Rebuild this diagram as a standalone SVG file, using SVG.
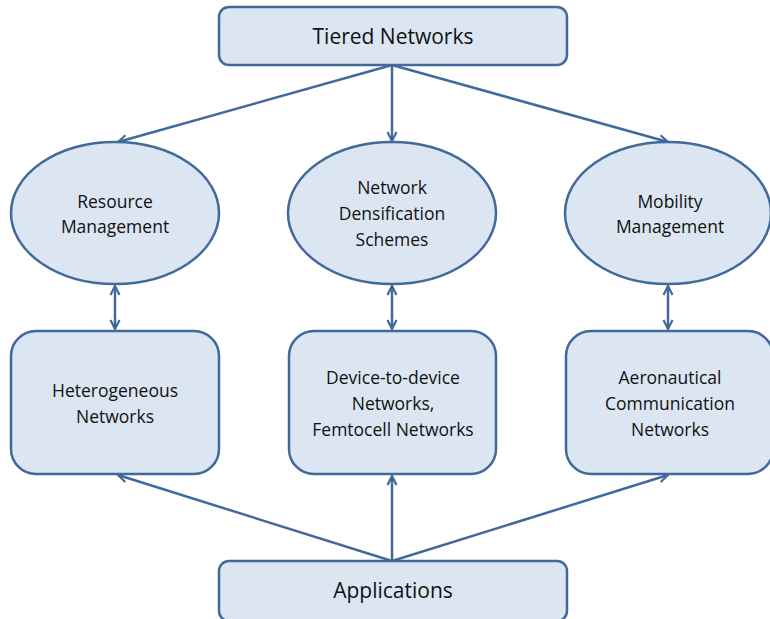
<svg xmlns="http://www.w3.org/2000/svg" width="770" height="619" viewBox="0 0 770 619">
<defs>
<marker id="ah" viewBox="0 0 12 12" refX="11" refY="6" markerWidth="12" markerHeight="12" markerUnits="userSpaceOnUse" orient="auto-start-reverse">
<polyline points="2,1.5 11,6 2,10.5" fill="none" stroke="#41699B" stroke-width="2.2" stroke-linejoin="miter"/>
</marker>
<style>
.n{fill:#DCE6F2;stroke:#41699B;stroke-width:2.5}
.c{stroke:#41699B;stroke-width:2.5;fill:none}
text{font-family:"Open Sans","Liberation Sans",sans-serif;fill:#111;text-anchor:middle}
.t{font-size:21px}
.s{font-size:17.5px}
</style>
</defs>
<rect width="770" height="619" fill="#fff"/>
<g id="connectors">
<line class="c" x1="392" y1="65" x2="118" y2="142" marker-end="url(#ah)"/>
<line class="c" x1="392" y1="65" x2="392" y2="141" marker-end="url(#ah)"/>
<line class="c" x1="392" y1="65" x2="668" y2="142" marker-end="url(#ah)"/>
<line class="c" x1="115" y1="286" x2="115" y2="329" marker-start="url(#ah)" marker-end="url(#ah)"/>
<line class="c" x1="392" y1="286" x2="392" y2="329" marker-start="url(#ah)" marker-end="url(#ah)"/>
<line class="c" x1="668" y1="286" x2="668" y2="329" marker-start="url(#ah)" marker-end="url(#ah)"/>
<line class="c" x1="392" y1="561" x2="118" y2="475" marker-end="url(#ah)"/>
<line class="c" x1="392" y1="561" x2="392" y2="476" marker-end="url(#ah)"/>
<line class="c" x1="392" y1="561" x2="668" y2="475" marker-end="url(#ah)"/>
</g>
<g id="tiered">
<rect class="n" x="219" y="7" width="348" height="58" rx="10"/>
<text class="t" x="393" y="44">Tiered Networks</text>
</g>
<g id="resource">
<ellipse class="n" cx="115" cy="213" rx="104" ry="71"/>
<text class="s" x="115" y="208">Resource</text>
<text class="s" x="115" y="233">Management</text>
</g>
<g id="densification">
<ellipse class="n" cx="392" cy="213" rx="104" ry="71"/>
<text class="s" x="392" y="194">Network</text>
<text class="s" x="392" y="220">Densification</text>
<text class="s" x="392" y="246">Schemes</text>
</g>
<g id="mobility">
<ellipse class="n" cx="668" cy="213" rx="103" ry="71"/>
<text class="s" x="670" y="208">Mobility</text>
<text class="s" x="670" y="233">Management</text>
</g>
<g id="hetnet">
<rect class="n" x="11" y="331" width="208" height="143" rx="25"/>
<text class="s" x="115" y="397">Heterogeneous</text>
<text class="s" x="115" y="423">Networks</text>
</g>
<g id="d2d">
<rect class="n" x="289" y="331" width="207" height="143" rx="25"/>
<text class="s" x="393" y="384">Device-to-device</text>
<text class="s" x="393" y="410">Networks,</text>
<text class="s" x="393" y="436">Femtocell Networks</text>
</g>
<g id="aero">
<rect class="n" x="566" y="331" width="207" height="143" rx="25"/>
<text class="s" x="670" y="384">Aeronautical</text>
<text class="s" x="670" y="410">Communication</text>
<text class="s" x="670" y="436">Networks</text>
</g>
<g id="apps">
<rect class="n" x="219" y="561" width="348" height="60" rx="10"/>
<text class="t" x="393" y="598">Applications</text>
</g>
</svg>
